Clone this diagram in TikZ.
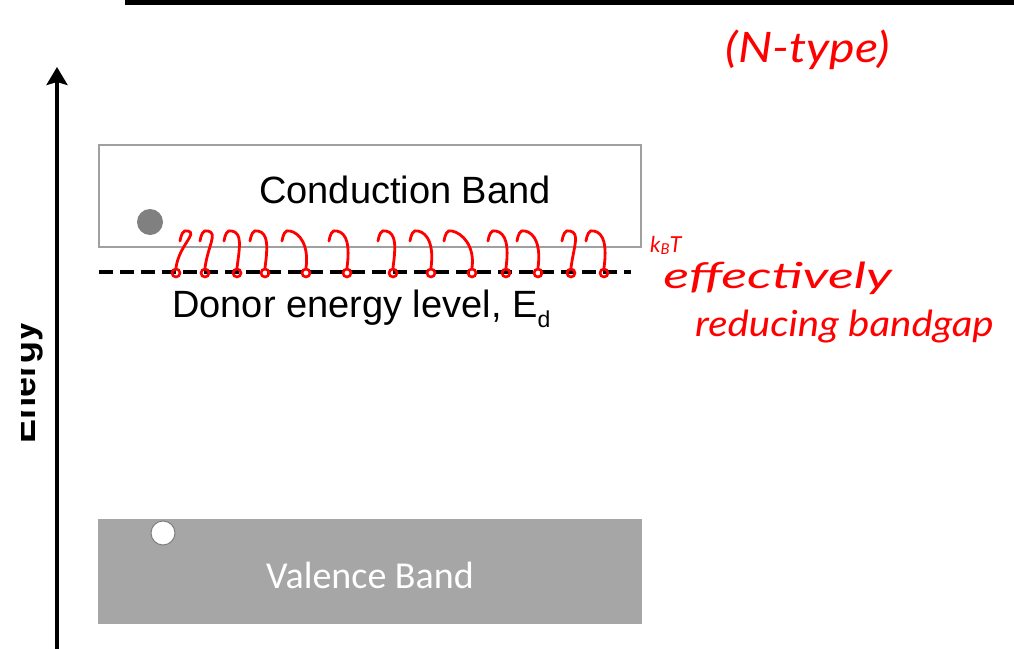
\documentclass[tikz,border=0pt]{standalone}
\usepackage{fontspec}
\setmainfont{Liberation Sans}
\newfontfamily\calib{Carlito}
\newfontfamily\hand{Lato Italic}
\usetikzlibrary{arrows.meta}
\definecolor{bandgray}{HTML}{A6A6A6}
\definecolor{boxgray}{HTML}{A0A0A0}
\definecolor{dotgray}{HTML}{808080}
\definecolor{pen}{HTML}{FF0000}
\tikzset{
  cbox/.style={draw=boxgray, line width=1.8pt, fill=white, minimum width=542pt, minimum height=102pt, inner sep=0pt},
  vbox/.style={fill=bandgray, minimum width=544pt, minimum height=105pt, inner sep=0pt},
  bigtxt/.style={font=\fontsize{38}{40}\selectfont, inner sep=0pt},
  edot/.style={circle, fill=dotgray, minimum size=26pt, inner sep=0pt},
  hdot/.style={circle, fill=white, draw=gray, line width=1pt, minimum size=24pt, inner sep=0pt},
  rdot/.style={circle, draw=pen, line width=2.6pt, minimum size=8pt, inner sep=0pt},
  redpen/.style={draw=pen, line width=2.8pt, line cap=round, line join=round},
  handtxt/.style={text=pen, inner sep=0pt},
}
\begin{document}
\begin{tikzpicture}[x=1pt,y=-1pt]
\useasboundingbox (0,0) rectangle (1014,648);
% top bar
\coordinate (barL) at (125,2.5);
\coordinate (barR) at (1014,2.5);
\draw[line width=5.5pt] (barL) -- (barR);
% energy axis
\coordinate (axb) at (57,652);
\coordinate (axt) at (57,67);
\draw[line width=3.5pt, -{Stealth[length=18pt,width=21pt,inset=3pt]}] (axb) -- (axt);
\begin{scope}
\clip (21,0) rectangle (1014,648);
\node[rotate=90, anchor=base, inner sep=0pt, font=\bfseries\fontsize{36}{36}\selectfont] (energy) at (35,382) {Energy};
\end{scope}
% conduction band
\node[cbox] (cb) at (370,196) {};
\node[bigtxt, anchor=base] (cbt) at (405,203) {Conduction Band};
\node[edot] (el) at (150,222) {};
% valence band
\node[vbox] (vb) at (370,571.5) {};
\node[bigtxt, font=\calib\fontsize{38}{40}\selectfont, text=white, anchor=base] (vbt) at (370,588) {Valence Band};
\node[hdot] (ho) at (163,533) {};
% donor level
\coordinate (dl) at (99,272);
\coordinate (dr) at (631,272);
\draw[line width=3.6pt, dash pattern=on 14pt off 7pt] (dl) -- (dr);
\node[bigtxt, anchor=base west] (dt) at (172,317) {Donor energy level, E\raisebox{-10pt}{\fontsize{23}{23}\selectfont d}};
% red excitation arrows
\foreach \i/\cx/\tx in {1/176/188, 2/205/208, 3/237/232, 4/265/258, 5/306/290, 6/347/337, 7/393/386, 8/431/418, 9/472/452, 10/506/496, 11/538/525, 12/571/570, 13/604/594}{
  \node[rdot] (d\i) at (\cx,273) {};
  \coordinate (t\i) at (\tx,231);
  \draw[redpen] (d\i.north) .. controls ++(3,-22) and ++(10,2) .. (t\i) .. controls ++(-5,-2) and ++(1,-6) .. ++(-8,10);
}
% handwritten notes
\node[handtxt, font=\hand\fontsize{42}{42}\selectfont, xscale=1.15] (ntype) at (808,50) {(N-type)};
\node[handtxt, font=\hand\fontsize{22}{22}\selectfont, anchor=base west] (kbt) at (650,252) {k\raisebox{-2pt}{\fontsize{15}{15}\selectfont B}T};
\node[handtxt, font=\hand\fontsize{36}{36}\selectfont, xscale=1.5, anchor=base west] (eff) at (663,288) {effectively};
\node[handtxt, font=\hand\fontsize{36}{36}\selectfont, xscale=1.12, anchor=base west] (red) at (695,336) {reducing bandgap};
\end{tikzpicture}
\end{document}
